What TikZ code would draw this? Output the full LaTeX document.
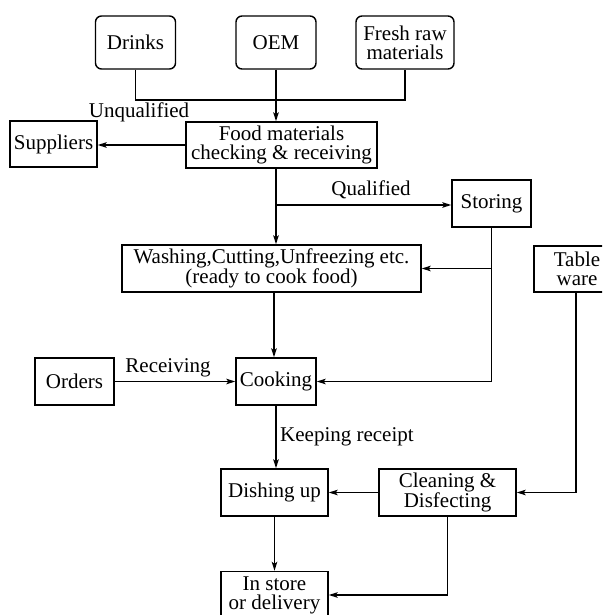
\documentclass[tikz,border=0pt]{standalone}
\usepackage{fontspec}
\setmainfont{Liberation Serif}
\usetikzlibrary{arrows.meta}
\begin{document}
\begin{tikzpicture}[x=1pt,y=-1pt,
  every node/.style={font=\fontsize{21}{19}\selectfont, inner sep=0pt, align=center},
  box/.style={draw, line width=1.4pt, fill=white},
  rbox/.style={box, rounded corners=6pt},
  flow/.style={line width=1.4pt, -{Stealth[length=9pt,width=5.5pt,inset=2pt]}},
  link/.style={line width=1.4pt},
  lbl/.style={font=\fontsize{21}{19}\selectfont}]
\useasboundingbox (0,0) rectangle (602,615);
\clip (0,0) rectangle (602,615);

% sources
\node[rbox, minimum width=80pt, minimum height=53pt] (drinks) at (135.5,42.5) {Drinks};
\node[rbox, minimum width=80pt, minimum height=53pt] (oem) at (276,42.5) {OEM};
\node[rbox, minimum width=98pt, minimum height=53pt] (fresh) at (405,42.5) {Fresh raw\\materials};

% process steps
\node[box, minimum width=191pt, minimum height=46pt] (food) at (281.5,145) {Food materials\\checking \& receiving};
\node[box, minimum width=87pt, minimum height=46pt] (suppliers) at (53.5,144) {Suppliers};
\node[box, minimum width=79pt, minimum height=47pt] (storing) at (491.5,203.5) {Storing};
\node[box, minimum width=299pt, minimum height=47pt] (washing) at (271.5,268.5) {Washing,Cutting,Unfreezing etc.\\(ready to cook food)};
\node[box, minimum width=86pt, minimum height=46pt] (table) at (577,269) {Table\\ware};
\node[box, minimum width=79pt, minimum height=47pt] (orders) at (74.5,381.5) {Orders};
\node[box, minimum width=80pt, minimum height=47pt] (cooking) at (276,381.5) {Cooking};
\node[box, minimum width=107pt, minimum height=47pt] (dishing) at (274.5,492.5) {Dishing up};
\node[box, minimum width=137pt, minimum height=47pt] (cleaning) at (447.5,492.5) {Cleaning \&\\Disfecting};
\node[box, minimum width=107pt, minimum height=47pt] (instore) at (274.5,595) {In store\\or delivery};

% junction points
\coordinate (j) at (276,100);
\coordinate (q) at (276,205);

% sources merge into receiving
\draw[link] (drinks.south) |- (j) -| (fresh.south);
\draw[flow] (oem.south) -- (oem.south |- food.north);

% rejected goods
\draw[flow] (food.west) -- (food.west -| suppliers.east);
\node[lbl] (unq) at (139,112) {Unqualified};

% accepted goods
\draw[flow] (oem.south |- food.south) -- (oem.south |- washing.north);
\draw[flow] (q) -- (q -| storing.west);
\node[lbl] (qual) at (371,190) {Qualified};

% from storage
\draw[flow] (storing.south) |- (cooking.east);
\draw[flow] (storing.south |- washing.east) -- (washing.east);

% preparation to cooking
\draw[flow] (washing.south -| cooking.north) ++(-2,0) coordinate (ws) -- (ws |- cooking.north);
\draw[flow] (orders.east) -- (cooking.west);
\node[lbl] (recv) at (168,368) {Receiving};

% serving
\draw[flow] (cooking.south) -- (cooking.south |- dishing.north);
\node[lbl, anchor=west] (keep) at (280,437) {Keeping receipt};

% tableware loop
\draw[flow] (table.south -| 576,0) |- (cleaning.east);
\draw[flow] (cleaning.west) -- (dishing.east);
\draw[flow] (dishing.south) -- (instore.north);
\draw[flow] (cleaning.south |- 445,516) |- (instore.east);
\end{tikzpicture}
\end{document}
